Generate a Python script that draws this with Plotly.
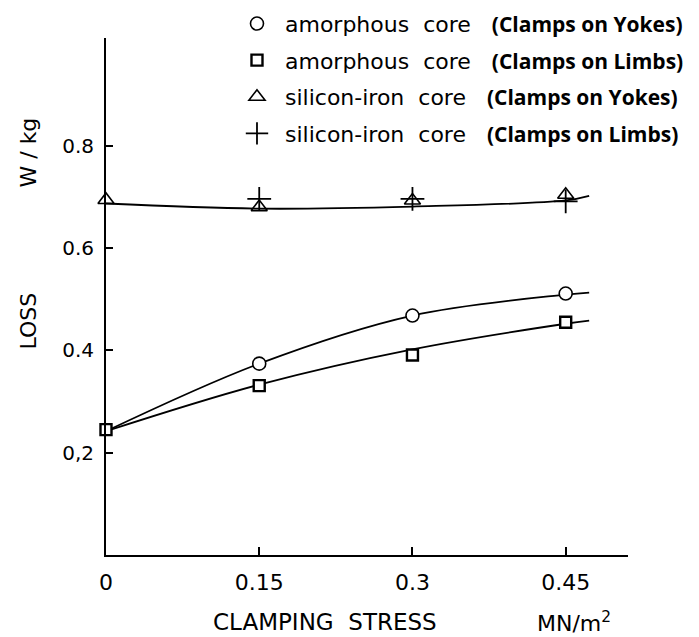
import plotly.graph_objects as go

# Clamping stress (MN/m^2) at which the cores were measured
stress = [0, 0.15, 0.30, 0.45]

# Measured specific loss (W/kg)
amorph_yokes = [0.374, 0.468, 0.511]          # at 0.15, 0.30, 0.45
amorph_yokes_x = [0.15, 0.30, 0.45]
amorph_limbs = [0.245, 0.331, 0.391, 0.455]
sife_yokes = [0.694, 0.680, 0.693, 0.704]
sife_limbs = [0.696, 0.696, 0.691]            # at 0.15, 0.30, 0.45
sife_limbs_x = [0.15, 0.30, 0.45]

# Smoothed trend curves drawn through the measurements
fit_x = [0, 0.15, 0.30, 0.45, 0.473]
fit_amorph_yokes = [0.242, 0.374, 0.468, 0.509, 0.513]
fit_amorph_limbs = [0.242, 0.333, 0.402, 0.452, 0.458]
fit_sife = [0.687, 0.677, 0.681, 0.693, 0.702]

x_ticks = [0, 0.15, 0.30, 0.45]
x_tick_text = ["0", "0.15", "0.3", "0.45"]
y_ticks = [0.2, 0.4, 0.6, 0.8]
y_tick_text = ["0,2", "0.4", "0.6", "0.8"]

LETTER = "DejaVu Sans, sans-serif"
BOLD = "font-family:Open Sans;font-weight:bold;font-size:21px"

fig = go.Figure()

for ys in (fit_amorph_yokes, fit_amorph_limbs, fit_sife):
    fig.add_trace(go.Scatter(
        x=fit_x, y=ys, mode="lines", line=dict(color="black", width=1.8, shape="spline"),
        showlegend=False, hoverinfo="skip"))

fig.add_trace(go.Scatter(
    x=amorph_yokes_x, y=amorph_yokes, mode="markers", legendgroup="a", cliponaxis=False,
    name=f'amorphous  core   <span style="{BOLD}">(Clamps on Yokes)</span>',
    marker=dict(symbol="circle", size=13, color="white", line=dict(color="black", width=1.6))))
fig.add_trace(go.Scatter(
    x=stress, y=amorph_limbs, mode="markers", legendgroup="b", cliponaxis=False,
    name=f'amorphous  core   <span style="{BOLD}">(Clamps on Limbs)</span>',
    marker=dict(symbol="square", size=11, color="white", line=dict(color="black", width=2.4))))
fig.add_trace(go.Scatter(
    x=stress, y=sife_yokes, mode="markers", legendgroup="c", cliponaxis=False,
    name=f'silicon-iron  core   <span style="{BOLD}">(Clamps on Yokes)</span>',
    marker=dict(symbol="triangle-up-open", size=14, color="black", line=dict(color="black", width=1.6))))
fig.add_trace(go.Scatter(
    x=sife_limbs_x, y=sife_limbs, mode="markers", legendgroup="d", cliponaxis=False,
    name=f'silicon-iron  core   <span style="{BOLD}">(Clamps on Limbs)</span>',
    marker=dict(symbol="cross-thin-open", size=17, color="black", line=dict(color="black", width=1.8))))

fig.update_layout(
    width=699, height=637,
    margin=dict(l=106, r=71, t=38, b=82, autoexpand=False),
    paper_bgcolor="white", plot_bgcolor="white",
    font=dict(family=LETTER, size=20, color="black"),
    showlegend=True,
    legend=dict(x=0.3276, xanchor="left", xref="container",
                y=0.9957, yanchor="top", yref="container",
                font=dict(family=LETTER, size=22, color="black"),
                bgcolor="rgba(0,0,0,0)", tracegroupgap=5, itemwidth=46),
    xaxis=dict(range=[0, 0.511], showline=True, linecolor="black", linewidth=2,
               showgrid=False, zeroline=False, ticks="inside", ticklen=8, tickwidth=1.5,
               tickcolor="black", tickvals=x_ticks, ticktext=x_tick_text,
               tickfont=dict(size=22), ticklabelstandoff=7),
    yaxis=dict(range=[0, 1.0105], showline=True, linecolor="black", linewidth=2,
               showgrid=False, zeroline=False, ticks="inside", ticklen=7, tickwidth=1.5,
               tickcolor="black", tickvals=y_ticks, ticktext=y_tick_text,
               tickfont=dict(size=20), ticklabelstandoff=6),
    annotations=[
        dict(text="CLAMPING  STRESS", x=0.4195, y=-0.1295, xref="paper", yref="paper",
             showarrow=False, font=dict(size=23), xanchor="center", yanchor="middle"),
        dict(text="MN/m<sup>2</sup>", x=0.8966, y=-0.1295, xref="paper", yref="paper",
             showarrow=False, font=dict(size=22), xanchor="center", yanchor="middle"),
        dict(text="W / kg", x=-0.148, y=0.778, xref="paper", yref="paper", textangle=-90,
             showarrow=False, font=dict(size=22), xanchor="center", yanchor="middle"),
        dict(text="LOSS", x=-0.148, y=0.453, xref="paper", yref="paper", textangle=-90,
             showarrow=False, font=dict(size=22), xanchor="center", yanchor="middle"),
    ],
)

fig.write_html("out.html")
